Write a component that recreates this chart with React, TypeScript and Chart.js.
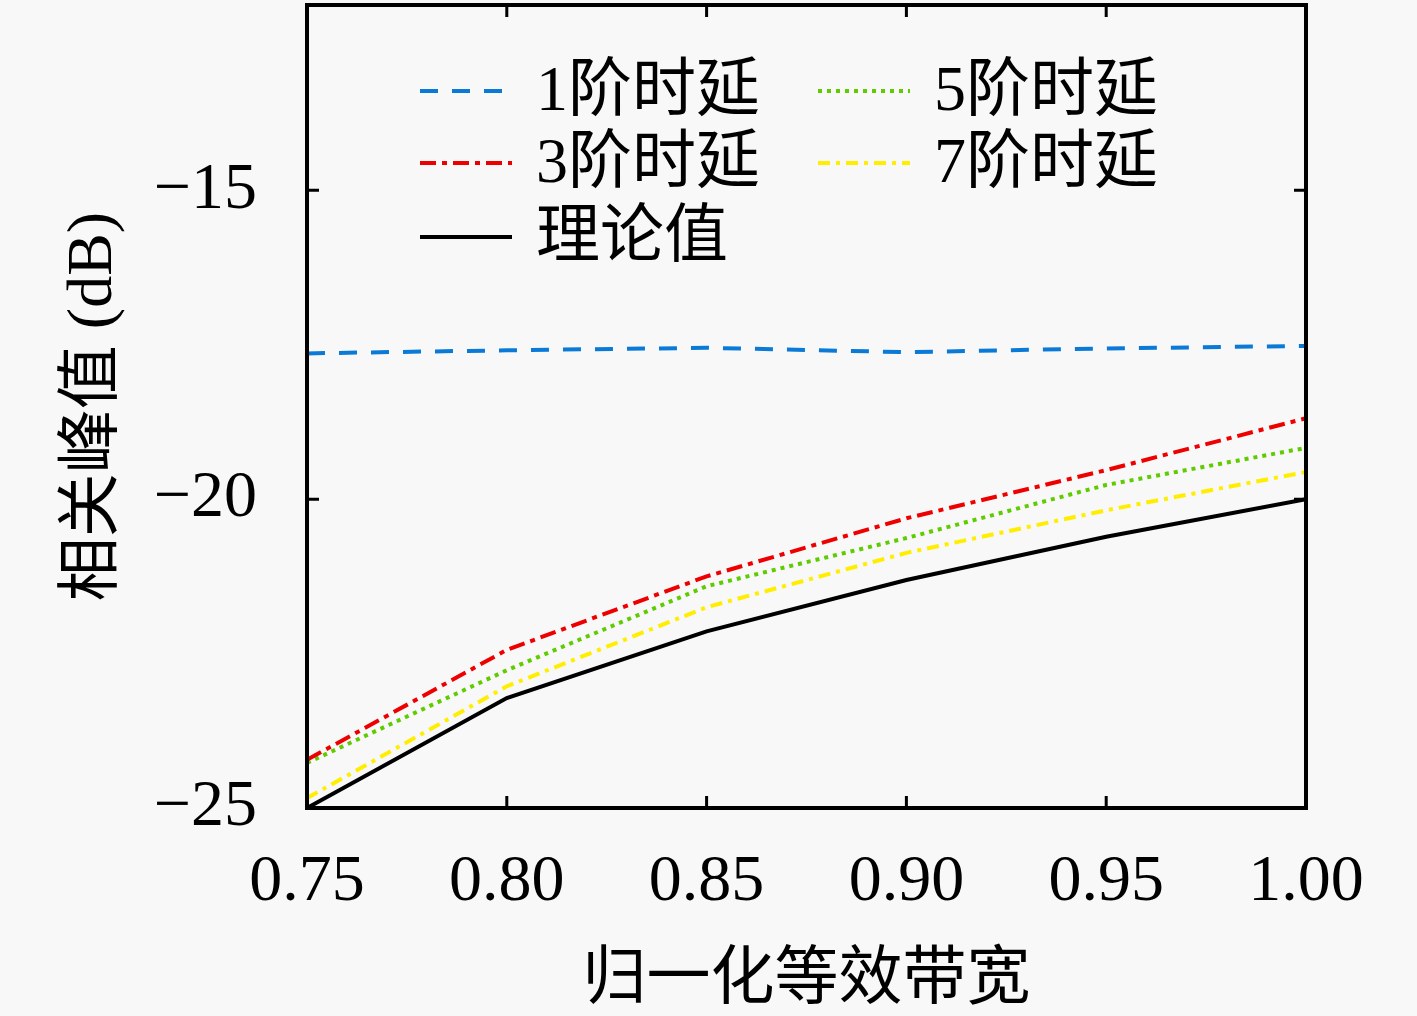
import { useEffect, useRef } from 'react'
import { Chart, registerables } from 'chart.js'

Chart.register(...registerables)

// x: normalised equivalent bandwidth
const xValues = [0.75, 0.8, 0.85, 0.9, 0.95, 1.0]
const xTickValues = [0.75, 0.8, 0.85, 0.9, 0.95, 1.0]
const yTickValues = [-25, -20, -15]

// correlation peak (dB)
const delay1 = [-17.64, -17.59, -17.55, -17.62, -17.56, -17.52]
const delay3 = [-24.22, -22.44, -21.25, -20.31, -19.53, -18.69]
const delay5 = [-24.27, -22.77, -21.41, -20.63, -19.77, -19.17]
const delay7 = [-24.84, -23.03, -21.75, -20.87, -20.18, -19.56]
const theory = [-25.0, -23.22, -22.14, -21.31, -20.61, -20.0]

const labels = ['1阶时延', '3阶时延', '5阶时延', '7阶时延', '理论值']

const latin = '"Liberation Serif", "Noto Sans CJK SC", serif'

const toPoints = (ys: number[]) => xValues.map((x, i) => ({ x, y: ys[i] }))

// legend: column-major, like the figure
const legendCols = [[0, 1, 4], [2, 3]]

const framePlugin = {
  id: 'frameTicks',
  afterDraw(chart: any) {
    const { ctx, chartArea: a, scales } = chart
    ctx.save()
    ctx.strokeStyle = '#000'
    ctx.lineWidth = 4
    ctx.strokeRect(a.left, a.top, a.right - a.left, a.bottom - a.top)
    const len = 12
    ctx.lineWidth = 3
    ctx.beginPath()
    xTickValues.forEach(v => {
      const px = scales.x.getPixelForValue(v)
      ctx.moveTo(px, a.bottom)
      ctx.lineTo(px, a.bottom - len)
      ctx.moveTo(px, a.top)
      ctx.lineTo(px, a.top + len)
    })
    yTickValues.forEach(v => {
      const py = scales.y.getPixelForValue(v)
      ctx.moveTo(a.left, py)
      ctx.lineTo(a.left + len, py)
      ctx.moveTo(a.right, py)
      ctx.lineTo(a.right - len, py)
    })
    ctx.stroke()

    // legend
    const colX = [a.left + 113, a.left + 511]
    const rowY = [a.top + 86, a.top + 158, a.top + 232]
    ctx.font = `64px ${latin}`
    ctx.textBaseline = 'middle'
    ctx.textAlign = 'left'
    legendCols.forEach((col, ci) => {
      col.forEach((di, ri) => {
        const ds = chart.data.datasets[di]
        const x0 = colX[ci]
        const y0 = rowY[ri]
        ctx.save()
        ctx.strokeStyle = ds.borderColor
        ctx.lineWidth = ds.borderWidth
        ctx.setLineDash(ds.borderDash || [])
        ctx.beginPath()
        ctx.moveTo(x0, y0)
        ctx.lineTo(x0 + 92, y0)
        ctx.stroke()
        ctx.restore()
        ctx.fillStyle = '#000'
        ctx.fillText(ds.label, x0 + 116, y0 + 2)
      })
    })
    ctx.restore()
  }
}

export default function App() {
  const canvasRef = useRef<HTMLCanvasElement>(null)
  const chartInstance = useRef<Chart | null>(null)

  useEffect(() => {
    document.body.style.margin = '0'
    document.body.style.background = '#f8f8f8'
    if (!canvasRef.current) return
    if (chartInstance.current) chartInstance.current.destroy()

    const line = (label: string, ys: number[], color: string, dash: number[]) => ({
      label,
      data: toPoints(ys),
      borderColor: color,
      backgroundColor: color,
      borderWidth: 4,
      borderDash: dash,
      pointRadius: 0,
      fill: false,
      tension: 0
    })

    chartInstance.current = new Chart(canvasRef.current, {
      type: 'line',
      data: {
        datasets: [
          line(labels[0], delay1, '#0a7ad6', [18, 14]),
          line(labels[1], delay3, '#ee0000', [16, 6, 5, 6]),
          line(labels[2], delay5, '#5fcc00', [4, 5]),
          line(labels[3], delay7, '#ffee00', [12, 6, 4, 6]),
          line(labels[4], theory, '#000000', [])
        ] as any
      },
      options: {
        animation: false,
        responsive: true,
        maintainAspectRatio: false,
        devicePixelRatio: 1,
        layout: { padding: { top: 5, right: 111, left: 0, bottom: 0 } },
        plugins: {
          legend: { display: false },
          tooltip: { enabled: false }
        },
        scales: {
          x: {
            type: 'linear',
            min: 0.75,
            max: 1.0,
            grid: { display: false, drawTicks: false },
            border: { display: false },
            afterBuildTicks: (scale: any) => {
              scale.ticks = xTickValues.map(v => ({ value: v }))
            },
            afterFit: (scale: any) => {
              scale.height = 208
              scale.paddingLeft = 0
              scale.paddingRight = 0
            },
            ticks: {
              padding: 35,
              color: '#000',
              font: { family: latin, size: 66 },
              maxRotation: 0,
              callback: (v: any) => Number(v).toFixed(2)
            },
            title: {
              display: true,
              text: '归一化等效带宽',
              color: '#000',
              font: { family: latin, size: 64, lineHeight: 1.1 },
              padding: { top: 0, bottom: 0 }
            }
          },
          y: {
            type: 'linear',
            min: -25,
            max: -12,
            grid: { display: false, drawTicks: false },
            border: { display: false },
            afterBuildTicks: (scale: any) => {
              scale.ticks = yTickValues.map(v => ({ value: v }))
            },
            afterFit: (scale: any) => {
              scale.width = 307
              scale.paddingTop = 0
              scale.paddingBottom = 0
            },
            ticks: {
              padding: 50,
              color: '#000',
              font: { family: latin, size: 66 },
              callback: (v: any) => String(v).replace('-', '\u2212')
            },
            title: {
              display: true,
              text: '相关峰值 (dB)',
              color: '#000',
              font: { family: latin, size: 64, lineHeight: 1.2 },
              padding: { top: 56, bottom: 0 }
            }
          }
        }
      },
      plugins: [framePlugin]
    })

    return () => {
      if (chartInstance.current) {
        chartInstance.current.destroy()
        chartInstance.current = null
      }
    }
  }, [])

  return (
    <div style={{ width: 1417, height: 1016, position: 'relative', background: '#f8f8f8' }}>
      <canvas ref={canvasRef} />
    </div>
  )
}
